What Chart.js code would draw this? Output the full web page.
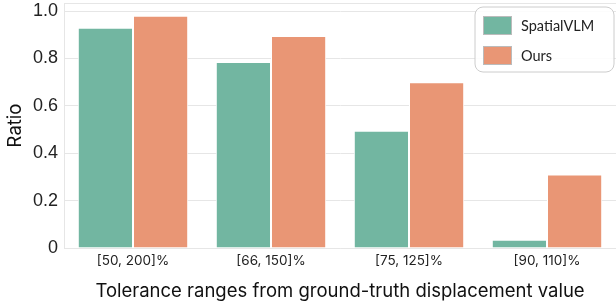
<!DOCTYPE html>
<html>
<head>
<meta charset="utf-8">
<script src="https://cdn.jsdelivr.net/npm/chart.js@4"></script>
<style>
  html, body { margin: 0; padding: 0; background: #fff; }
  #wrap { width: 616px; height: 301px; }
</style>
</head>
<body>
<div id="wrap"><canvas id="ratioChart" width="616" height="301"></canvas></div>
<script>
// data
const categories = ['[50, 200]%', '[66, 150]%', '[75, 125]%', '[90, 110]%'];
const spatialVLM = [0.93, 0.785, 0.495, 0.035];
const ours = [0.98, 0.895, 0.70, 0.31];
const yTicks = [0, 0.2, 0.4, 0.6, 0.8, 1.0];

const green = '#72b6a1';
const orange = '#e99675';

// legend box drawn inside the plot, top right
const boxLegend = {
    id: 'boxLegend',
    afterDraw(chart) {
        const ctx = chart.ctx;
        const x = 475, y = 7, w = 139, h = 65;
        ctx.save();
        ctx.beginPath();
        ctx.roundRect(x, y, w, h, 8);
        ctx.fillStyle = 'rgba(255,255,255,0.85)';
        ctx.fill();
        ctx.strokeStyle = '#cccccc';
        ctx.lineWidth = 1;
        ctx.stroke();
        chart.data.datasets.forEach(function (ds, i) {
            const ry = y + 9 + i * 30;
            ctx.fillStyle = ds.backgroundColor;
            ctx.fillRect(x + 8, ry, 29, 19);
            ctx.strokeStyle = '#bbbbbb';
            ctx.strokeRect(x + 8.5, ry + 0.5, 28, 18);
            ctx.fillStyle = '#222';
            ctx.font = '14.5px Lato, "Noto Sans", sans-serif';
            ctx.textBaseline = 'middle';
            ctx.fillText(ds.label, x + 46, ry + 10);
        });
        ctx.restore();
    }
};

const ctx = document.getElementById('ratioChart').getContext('2d');
new Chart(ctx, {
    type: 'bar',
    data: {
        labels: categories,
        datasets: [
            {
                label: 'SpatialVLM',
                data: spatialVLM,
                backgroundColor: green,
                borderColor: '#ffffff',
                borderWidth: 1
            },
            {
                label: 'Ours',
                data: ours,
                backgroundColor: orange,
                borderColor: '#ffffff',
                borderWidth: 1
            }
        ]
    },
    options: {
        responsive: false,
        animation: false,
        layout: { padding: { top: 3, right: 0, left: 0, bottom: 0 } },
        datasets: { bar: { categoryPercentage: 0.8, barPercentage: 1.0 } },
        plugins: {
            legend: { display: false },
            tooltip: { enabled: false }
        },
        scales: {
            x: {
                grid: { display: false, drawTicks: false },
                border: { display: true, color: '#e6e6e6' },
                ticks: {
                    color: '#222',
                    font: { size: 13.5, family: 'Inter, "DejaVu Sans", sans-serif' },
                    padding: 5
                },
                title: {
                    display: true,
                    text: 'Tolerance ranges from ground-truth displacement value',
                    color: '#111',
                    font: { size: 18.5, family: 'Inter, "DejaVu Sans", sans-serif' },
                    padding: { top: 4, bottom: -2 }
                },
                afterFit(scale) { scale.height = 53; }
            },
            y: {
                min: 0,
                max: 1.034,
                grid: { color: '#e6e6e6', drawTicks: false },
                border: { display: true, color: '#e6e6e6' },
                afterBuildTicks(scale) {
                    scale.ticks = yTicks.map(v => ({ value: v }));
                },
                ticks: {
                    color: '#222',
                    padding: 6,
                    font: { size: 18, family: '"Liberation Sans", Arial, sans-serif' },
                    callback: v => v === 0 ? '0' : v.toFixed(1)
                },
                title: {
                    display: true,
                    text: 'Ratio',
                    color: '#111',
                    font: { size: 18.5, family: 'Inter, "DejaVu Sans", sans-serif' },
                    padding: { bottom: 2 }
                },
                afterFit(scale) {
                    scale.width = 64;
                    scale.paddingTop = 0;
                    scale.paddingBottom = 0;
                }
            }
        }
    },
    plugins: [boxLegend, {
        id: 'topLine',
        beforeDatasetsDraw(chart) {
            const a = chart.chartArea, c = chart.ctx;
            c.save();
            c.strokeStyle = '#e6e6e6';
            c.beginPath();
            c.moveTo(a.left, a.top + 0.5);
            c.lineTo(a.right, a.top + 0.5);
            c.stroke();
            c.restore();
        }
    }]
});
</script>
</body>
</html>
